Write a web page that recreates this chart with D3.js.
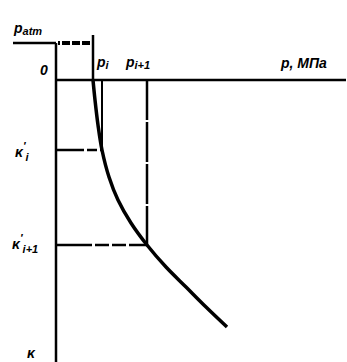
<!DOCTYPE html>
<html>
<head>
<meta charset="utf-8">
<script src="https://cdn.jsdelivr.net/npm/d3@7"></script>
<style>
  body { margin: 0; background: #fff; }
  .lbl { font-family: "Liberation Sans", Arial, sans-serif; font-weight: bold; font-style: italic; font-size: 14px; fill: #000; }
</style>
</head>
<body>
<div id="chart"></div>
<script>
// compression curve kappa'(p), schematic values
var curveP = [37, 39, 42, 46, 53, 62, 75, 91, 110, 130, 150, 171]
var curveK = [0, 20, 45, 70, 97, 120, 143, 165, 187, 207, 227, 247]

// marked points on the curve
var pI = 46, kI = 70
var pI1 = 91, kI1 = 165

// atmospheric pressure level
var pAtm = 37
var kAtm = -37
var pAtmLeft = -43

var width = 347
var height = 362

var x = d3.scaleLinear().domain([0, 290]).range([56, 346])
var y = d3.scaleLinear().domain([0, 282]).range([80, 362])

var svg = d3.select('#chart').append('svg')
  .attr('width', width)
  .attr('height', height)

// axes
svg.append('line')
  .attr('x1', x(0)).attr('x2', x(290))
  .attr('y1', y(0)).attr('y2', y(0))
  .attr('stroke', '#000').attr('stroke-width', 2.5)

svg.append('line')
  .attr('x1', x(0)).attr('x2', x(0))
  .attr('y1', y(kAtm)).attr('y2', y(282))
  .attr('stroke', '#000').attr('stroke-width', 2.5)

// p_atm level
svg.append('line')
  .attr('x1', x(pAtmLeft)).attr('x2', x(0))
  .attr('y1', y(kAtm)).attr('y2', y(kAtm))
  .attr('stroke', '#000').attr('stroke-width', 2.5)

svg.append('line')
  .attr('x1', x(0) + 2).attr('x2', x(pAtm))
  .attr('y1', y(kAtm)).attr('y2', y(kAtm))
  .attr('stroke', '#000').attr('stroke-width', 4)
  .attr('stroke-dasharray', '8,2')
  .attr('stroke-dashoffset', -4)

svg.append('line')
  .attr('x1', x(pAtm)).attr('x2', x(pAtm))
  .attr('y1', y(kAtm - 8)).attr('y2', y(0))
  .attr('stroke', '#000').attr('stroke-width', 2.5)

// guide lines
svg.append('line')
  .attr('x1', x(pI)).attr('x2', x(pI))
  .attr('y1', y(0)).attr('y2', y(kI))
  .attr('stroke', '#000').attr('stroke-width', 2)

svg.append('line')
  .attr('x1', x(pI1)).attr('x2', x(pI1))
  .attr('y1', y(0)).attr('y2', y(kI1))
  .attr('stroke', '#000').attr('stroke-width', 2.5)
  .attr('stroke-dasharray', '40,2')

svg.append('line')
  .attr('x1', x(0)).attr('x2', x(pI))
  .attr('y1', y(kI)).attr('y2', y(kI))
  .attr('stroke', '#000').attr('stroke-width', 2.5)
  .attr('stroke-dasharray', '28,3,10,3')

svg.append('line')
  .attr('x1', x(0)).attr('x2', x(pI1))
  .attr('y1', y(kI1)).attr('y2', y(kI1))
  .attr('stroke', '#000').attr('stroke-width', 2.5)
  .attr('stroke-dasharray', '36,3,14,3,14,3')

// curve
var line = d3.line()
  .x(function(d, i) { return x(curveP[i]) })
  .y(function(d, i) { return y(curveK[i]) })
  .curve(d3.curveCatmullRom)

svg.append('path')
  .datum(curveP)
  .attr('d', line)
  .attr('fill', 'none')
  .attr('stroke', '#000')
  .attr('stroke-width', 3.5)

// labels
function label(tx, ty, parts) {
  var t = svg.append('text').attr('class', 'lbl').attr('x', tx).attr('y', ty)
  parts.forEach(function(p) {
    var s = t.append('tspan').text(p[0])
    if (p[1] == 'sub') s.attr('font-size', 11).attr('dy', p[2] || 4)
    if (p[1] == 'sup') s.attr('font-size', 11).attr('dy', p[2] || -6)
  })
}

label(14, 33, [['p'], ['atm', 'sub', 2]])
label(40, 75, [['0']])
label(97, 67, [['p'], ['i', 'sub', 2]])
label(126, 67, [['p'], ['i+1', 'sub', 2]])
label(281, 68, [['p, МПа']])
label(15, 157, [['κ'], ['′', 'sup', -7], ['i', 'sub', 11]])
label(12, 249, [['κ'], ['′', 'sup', -7], ['i+1', 'sub', 11]])
label(27, 358, [['κ']])
</script>
</body>
</html>
